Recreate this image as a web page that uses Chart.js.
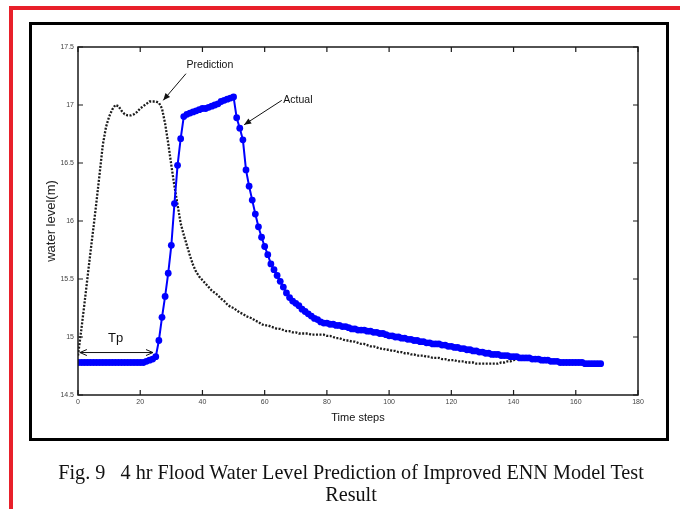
<!DOCTYPE html>
<html>
<head>
<meta charset="utf-8">
<title>Flood water level prediction</title>
<script src="https://cdn.jsdelivr.net/npm/chart.js@4.4.1/dist/chart.umd.min.js"></script>
<style>
  html, body { margin: 0; padding: 0; background: #fff; width: 680px; height: 509px; overflow: hidden; }
  #redFrame { position: absolute; left: 9px; top: 6px; width: 700px; height: 520px;
    border-left: 4px solid #e8202a; border-top: 4px solid #e8202a; }
  #figFrame { position: absolute; left: 29px; top: 22px; width: 634px; height: 413px; border: 3px solid #000; }
  #myChart { position: absolute; left: 0; top: 0; }
  #caption { position: absolute; left: 29px; width: 644px; top: 462px; text-align: center;
    font-family: "Liberation Serif", "Times New Roman", serif; font-size: 20.2px; line-height: 21.5px;
    color: #111; white-space: pre; }
</style>
</head>
<body>
<div id="redFrame"></div>
<div id="figFrame"></div>
<canvas id="myChart" width="680" height="509"></canvas>
<div id="caption">Fig. 9   4 hr Flood Water Level Prediction of Improved ENN Model Test
Result</div>

<script>
// measured water level (m), one value per time step starting at 0
var actual = [
  14.78, 14.78, 14.78, 14.78, 14.78, 14.78, 14.78, 14.78, 14.78, 14.78,
  14.78, 14.78, 14.78, 14.78, 14.78, 14.78, 14.78, 14.78, 14.78, 14.78,
  14.78, 14.78, 14.79, 14.80, 14.81, 14.83, 14.97, 15.17, 15.35, 15.55,
  15.79, 16.15, 16.48, 16.71, 16.90, 16.92, 16.93, 16.94, 16.95, 16.96,
  16.97, 16.97, 16.98, 16.99, 17.00, 17.01, 17.03, 17.04, 17.05, 17.06,
  17.07, 16.89, 16.80, 16.70, 16.44, 16.30, 16.18, 16.06, 15.95, 15.86,
  15.78, 15.71, 15.63, 15.58, 15.53, 15.48, 15.43, 15.38, 15.34, 15.31,
  15.29, 15.27, 15.24, 15.22, 15.20, 15.18, 15.16, 15.15, 15.13, 15.12,
  15.12, 15.11, 15.11, 15.10, 15.10, 15.09, 15.09, 15.08, 15.07, 15.07,
  15.06, 15.06, 15.06, 15.05, 15.05, 15.04, 15.04, 15.03, 15.03, 15.02,
  15.01, 15.01, 15.00, 15.00, 14.99, 14.99, 14.98, 14.98, 14.97, 14.97,
  14.96, 14.96, 14.95, 14.95, 14.94, 14.94, 14.94, 14.93, 14.93, 14.92,
  14.92, 14.91, 14.91, 14.90, 14.90, 14.89, 14.89, 14.88, 14.88, 14.87,
  14.87, 14.86, 14.86, 14.85, 14.85, 14.85, 14.84, 14.84, 14.84, 14.83,
  14.83, 14.83, 14.82, 14.82, 14.82, 14.82, 14.81, 14.81, 14.81, 14.80,
  14.80, 14.80, 14.79, 14.79, 14.79, 14.78, 14.78, 14.78, 14.78, 14.78,
  14.78, 14.78, 14.78, 14.77, 14.77, 14.77, 14.77, 14.77, 14.77
];

// ENN model output (m), 4 hr ahead
var predicted = [
  14.84, 15.05, 15.27, 15.50, 15.73, 15.95, 16.18, 16.42, 16.66, 16.81,
  16.90, 16.96, 17.00, 16.99, 16.95, 16.92, 16.91, 16.91, 16.92, 16.94,
  16.97, 16.99, 17.01, 17.03, 17.03, 17.03, 17.02, 16.97, 16.84, 16.67,
  16.48, 16.30, 16.14, 15.98, 15.88, 15.79, 15.70, 15.62, 15.56, 15.52,
  15.49, 15.46, 15.43, 15.40, 15.38, 15.36, 15.33, 15.31, 15.28, 15.26,
  15.25, 15.23, 15.21, 15.20, 15.18, 15.17, 15.16, 15.14, 15.13, 15.11,
  15.10, 15.10, 15.09, 15.08, 15.07, 15.07, 15.06, 15.05, 15.05, 15.04,
  15.04, 15.03, 15.03, 15.03, 15.03, 15.02, 15.02, 15.02, 15.02, 15.02,
  15.01, 15.01, 15.00, 14.99, 14.99, 14.98, 14.97, 14.97, 14.96, 14.96,
  14.95, 14.94, 14.94, 14.93, 14.92, 14.92, 14.91, 14.90, 14.90, 14.89,
  14.89, 14.88, 14.88, 14.87, 14.87, 14.86, 14.86, 14.85, 14.85, 14.84,
  14.84, 14.84, 14.83, 14.83, 14.82, 14.82, 14.82, 14.81, 14.81, 14.80,
  14.80, 14.80, 14.79, 14.79, 14.79, 14.78, 14.78, 14.78, 14.77, 14.77,
  14.77, 14.77, 14.77, 14.77, 14.77, 14.77, 14.78, 14.78, 14.79, 14.79,
  14.80, 14.81, 14.81, 14.82, 14.82, 14.82, 14.82, 14.82
];

var xTicks = [0, 20, 40, 60, 80, 100, 120, 140, 160, 180];
var yTicks = [14.5, 15, 15.5, 16, 16.5, 17, 17.5];

// callouts, in data units (time step, level)
var notes = [
  { text: 'Prediction', at: [34.9, 17.345], align: 'left',   size: 10.5, from: [34.7, 17.27], to: [27.4, 17.04] },
  { text: 'Actual',     at: [66.0, 17.04],  align: 'left',   size: 10.5, from: [65.5, 17.04], to: [53.4, 16.83] },
  { text: 'Tp',         at: [12.1, 14.985], align: 'center', size: 13,   from: [0.6, 14.866],  to: [24.1, 14.866], both: true }
];

function toPoints(arr) {
  return arr.map(function (v, i) { return { x: i, y: v }; });
}

function arrowHead(ctx, x0, y0, x1, y1, open) {
  var a = Math.atan2(y1 - y0, x1 - x0);
  var len = 7, w = 3;
  var bx = x1 - len * Math.cos(a), by = y1 - len * Math.sin(a);
  var px = -Math.sin(a) * w, py = Math.cos(a) * w;
  ctx.beginPath();
  ctx.moveTo(bx + px, by + py);
  ctx.lineTo(x1, y1);
  ctx.lineTo(bx - px, by - py);
  if (open) {
    ctx.stroke();
  } else {
    ctx.closePath();
    ctx.fill();
  }
}

// matlab style box: axes on all four sides with ticks pointing in
var boxAxes = {
  id: 'boxAxes',
  afterDatasetsDraw: function (chart) {
    var ctx = chart.ctx, area = chart.chartArea;
    var sx = chart.scales.x, sy = chart.scales.y;
    var tl = 5;
    ctx.save();
    ctx.strokeStyle = '#1a1a1a';
    ctx.lineWidth = 1.5;
    ctx.strokeRect(area.left, area.top, area.right - area.left, area.bottom - area.top);
    ctx.lineWidth = 1.2;
    ctx.beginPath();
    xTicks.forEach(function (t) {
      var px = sx.getPixelForValue(t);
      ctx.moveTo(px, area.bottom); ctx.lineTo(px, area.bottom - tl);
      ctx.moveTo(px, area.top); ctx.lineTo(px, area.top + tl);
    });
    yTicks.forEach(function (t) {
      var py = sy.getPixelForValue(t);
      ctx.moveTo(area.left, py); ctx.lineTo(area.left + tl, py);
      ctx.moveTo(area.right, py); ctx.lineTo(area.right - tl, py);
    });
    ctx.stroke();

    // callouts
    ctx.strokeStyle = '#111';
    ctx.fillStyle = '#111';
    ctx.lineWidth = 1;
    notes.forEach(function (n) {
      var x0 = sx.getPixelForValue(n.from[0]), y0 = sy.getPixelForValue(n.from[1]);
      var x1 = sx.getPixelForValue(n.to[0]), y1 = sy.getPixelForValue(n.to[1]);
      ctx.beginPath();
      ctx.moveTo(x0, y0); ctx.lineTo(x1, y1);
      ctx.stroke();
      arrowHead(ctx, x0, y0, x1, y1, n.both);
      if (n.both) arrowHead(ctx, x1, y1, x0, y0, true);
      ctx.font = n.size + 'px "Liberation Sans", Arial, sans-serif';
      ctx.textAlign = n.align;
      ctx.textBaseline = 'middle';
      ctx.fillText(n.text, sx.getPixelForValue(n.at[0]), sy.getPixelForValue(n.at[1]));
    });
    ctx.restore();
  }
};

var config = {
  type: 'line',
  data: {
    datasets: [
      {
        label: 'Actual',
        data: toPoints(actual),
        borderColor: '#0000ff',
        backgroundColor: '#0000ff',
        borderWidth: 2,
        pointRadius: 3.4,
        pointBorderWidth: 0,
        tension: 0,
        order: 0
      },
      {
        label: 'Prediction',
        data: toPoints(predicted),
        borderColor: '#1c1c1c',
        borderWidth: 2.3,
        borderDash: [2, 1.5],
        pointRadius: 0,
        tension: 0,
        order: 1
      }
    ]
  },
  options: {
    responsive: false,
    animation: false,
    layout: { padding: { left: 38, top: 47, right: 42, bottom: 84 } },
    plugins: { legend: { display: false }, tooltip: { enabled: false } },
    scales: {
      x: {
        type: 'linear',
        min: 0,
        max: 180,
        afterBuildTicks: function (s) { s.ticks = xTicks.map(function (v) { return { value: v }; }); },
        ticks: { color: '#444', padding: 3, font: { size: 7, family: '"Liberation Sans", Arial' },
          callback: function (v) { return String(v); } },
        grid: { display: false, drawTicks: false },
        border: { display: false },
        title: { display: true, text: 'Time steps', color: '#111', padding: 0,
          font: { size: 11, family: '"Liberation Sans", Arial' } },
        afterFit: function (s) { s.height = 30; s.paddingLeft = 0; s.paddingRight = 0; }
      },
      y: {
        min: 14.5,
        max: 17.5,
        afterBuildTicks: function (s) { s.ticks = yTicks.map(function (v) { return { value: v }; }); },
        ticks: { color: '#444', padding: 4, font: { size: 7, family: '"Liberation Sans", Arial' },
          callback: function (v) { return String(v); } },
        grid: { display: false, drawTicks: false },
        border: { display: false },
        title: { display: true, text: 'water level(m)', color: '#222', padding: { top: 6, bottom: 0 },
          font: { size: 13, family: '"Liberation Sans", Arial' } },
        afterFit: function (s) { s.width = 40; s.paddingTop = 0; s.paddingBottom = 0; }
      }
    }
  },
  plugins: [boxAxes]
};

var myChart = new Chart(document.getElementById('myChart'), config);
</script>
</body>
</html>
